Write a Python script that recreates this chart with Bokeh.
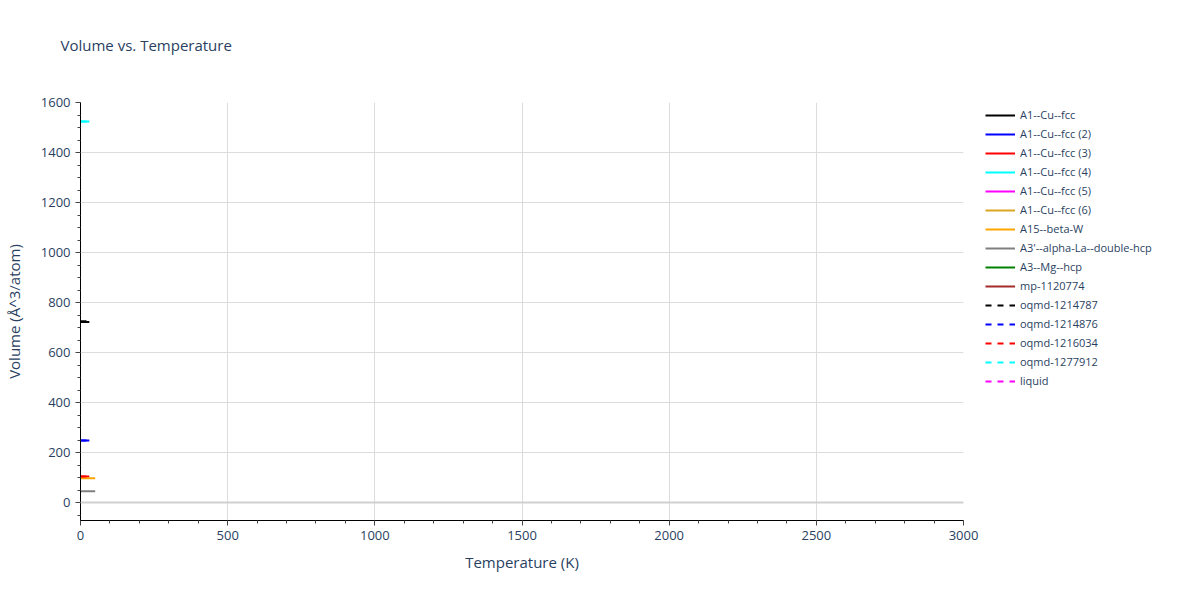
from bokeh.plotting import figure
from bokeh.models import Legend, LegendItem, Span, Range1d, ColumnDataSource, Title, FixedTicker
from bokeh.embed import file_html
from bokeh.resources import INLINE

nan = float("nan")

# ---- data ----
names = ["A1--Cu--fcc", "A1--Cu--fcc (2)", "A1--Cu--fcc (3)", "A1--Cu--fcc (4)",
         "A1--Cu--fcc (5)", "A1--Cu--fcc (6)", "A15--beta-W", "A3'--alpha-La--double-hcp",
         "A3--Mg--hcp", "mp-1120774", "oqmd-1214787", "oqmd-1214876", "oqmd-1216034",
         "oqmd-1277912", "liquid"]
colors = ["black", "blue", "red", "cyan", "magenta", "goldenrod", "orange", "gray",
          "green", "brown", "black", "blue", "red", "cyan", "magenta"]
dashes = ["solid"] * 10 + ["dashed"] * 5

temps = {
    "A1--Cu--fcc": [0, 30],
    "A1--Cu--fcc (2)": [0, 30],
    "A1--Cu--fcc (3)": [0, 30],
    "A1--Cu--fcc (4)": [0, 30],
    "A1--Cu--fcc (5)": [nan],
    "A1--Cu--fcc (6)": [nan],
    "A15--beta-W": [0, 50],
    "A3'--alpha-La--double-hcp": [0, 50],
    "A3--Mg--hcp": [nan],
    "mp-1120774": [nan],
    "oqmd-1214787": [0, 30],
    "oqmd-1214876": [0, 30],
    "oqmd-1216034": [0, 30],
    "oqmd-1277912": [0, 30],
    "liquid": [nan],
}
volumes = {
    "A1--Cu--fcc": [722, 722],
    "A1--Cu--fcc (2)": [248, 248],
    "A1--Cu--fcc (3)": [104, 104],
    "A1--Cu--fcc (4)": [1524, 1524],
    "A1--Cu--fcc (5)": [nan],
    "A1--Cu--fcc (6)": [nan],
    "A15--beta-W": [97, 97],
    "A3'--alpha-La--double-hcp": [45, 45],
    "A3--Mg--hcp": [nan],
    "mp-1120774": [nan],
    "oqmd-1214787": [725, 725],
    "oqmd-1214876": [248, 248],
    "oqmd-1216034": [104, 104],
    "oqmd-1277912": [1524, 1524],
    "liquid": [nan],
}

x_ticks = [0, 500, 1000, 1500, 2000, 2500, 3000]
y_ticks = [0, 200, 400, 600, 800, 1000, 1200, 1400, 1600]

FONT = "Open Sans"
TXT = "#2a3f5f"

p = figure(width=1184, height=584, output_backend="svg", toolbar_location=None,
           frame_width=883, frame_height=418,
           x_range=Range1d(0, 3000), y_range=Range1d(-72, 1600),
           min_border_left=72, min_border_top=102, min_border_bottom=72, min_border_right=229)

p.background_fill_color = "white"
p.border_fill_color = "white"
p.outline_line_color = None

spacer = Title(text=" ", text_font_size="1px", standoff=44)
p.add_layout(spacer, "above")
t = Title(text="Volume vs. Temperature", text_font=FONT, text_font_size="15px",
          text_color=TXT, text_font_style="normal", offset=-20, standoff=0,
          vertical_align="middle")
p.add_layout(t, "above")

items = []
for n, c, d in zip(names, colors, dashes):
    src = ColumnDataSource(dict(x=temps[n], y=volumes[n]))
    r = p.line("x", "y", source=src, line_color=c, line_width=2, line_dash=d)
    items.append(LegendItem(label=n, renderers=[r]))

legend = Legend(items=items, location=(22, 132), label_text_font=FONT,
                label_text_font_size="11px", label_text_color=TXT,
                glyph_width=30, glyph_height=12, label_height=12,
                spacing=4, padding=0, margin=0, border_line_color=None,
                background_fill_alpha=0, label_standoff=5)
p.add_layout(legend, "right")

zero = Span(location=0, dimension="width", line_color="#d0d0d0", line_width=2)
p.add_layout(zero)

p.xaxis.ticker = FixedTicker(ticks=x_ticks, minor_ticks=list(range(0, 3001, 100)))
p.yaxis.ticker = FixedTicker(ticks=y_ticks, minor_ticks=list(range(-50, 1601, 50)))
p.xgrid.ticker = p.xaxis.ticker
p.ygrid.ticker = p.yaxis.ticker
p.xgrid.grid_line_color = "#dcdcdc"
p.ygrid.grid_line_color = "#dcdcdc"

for ax in (p.xaxis[0], p.yaxis[0]):
    ax.axis_line_color = "black"
    ax.axis_line_width = 1
    ax.major_tick_line_color = "#444444"
    ax.minor_tick_line_color = "#444444"
    ax.major_tick_in = 0
    ax.major_tick_out = 5
    ax.minor_tick_in = 0
    ax.minor_tick_out = 3
    ax.major_label_text_font = FONT
    ax.major_label_text_font_size = "13px"
    ax.major_label_text_color = TXT
    ax.axis_label_text_font = FONT
    ax.axis_label_text_font_size = "15px"
    ax.axis_label_text_color = TXT
    ax.axis_label_text_font_style = "normal"

p.xaxis.axis_label = "Temperature (K)"
p.yaxis.axis_label = "Volume (Å^3/atom)"
p.xaxis.axis_label_standoff = 9
p.yaxis.axis_label_standoff = 14

open("out.html", "w").write(file_html(p, INLINE))
